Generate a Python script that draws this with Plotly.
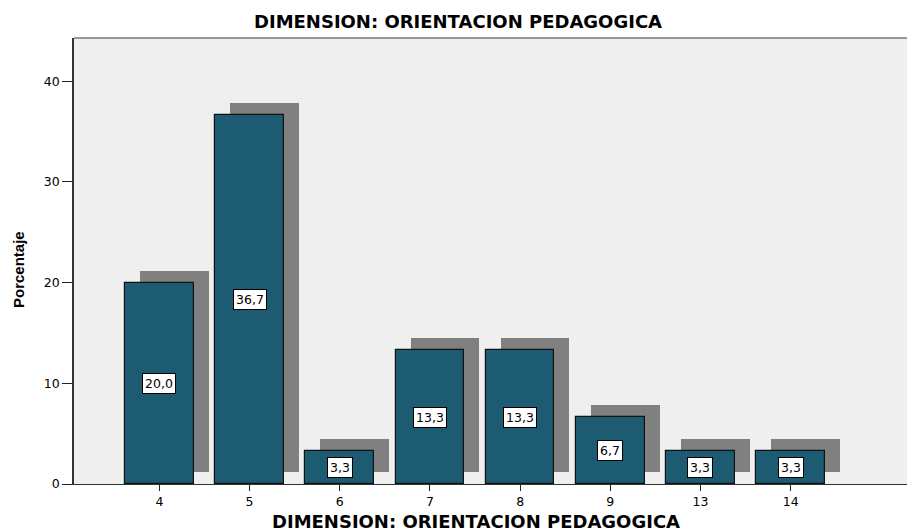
import plotly.graph_objects as go

categories = ["4", "5", "6", "7", "8", "9", "13", "14"]
percentages = [20.0, 36.7, 3.3, 13.3, 13.3, 6.7, 3.3, 3.3]
labels = ["20,0", "36,7", "3,3", "13,3", "13,3", "6,7", "3,3", "3,3"]
y_ticks = [0, 10, 20, 30, 40]
title_text = "DIMENSION: ORIENTACION PEDAGOGICA"

pos = list(range(len(categories)))
dx = 0.166   # shadow offset (category units)
dy = 1.19    # shadow offset (percent units)
bar_w = 0.76

W, H = 907, 532
L, R, T, B = 74, 0, 38, 48

fig = go.Figure()
fig.add_trace(go.Bar(
    x=[p + dx for p in pos], y=percentages, base=dy, width=bar_w,
    marker=dict(color="#808080", line=dict(width=0)),
    hoverinfo="skip", showlegend=False))
fig.add_trace(go.Bar(
    x=pos, y=percentages, width=bar_w,
    marker=dict(color="#1c5b71", line=dict(color="#111111", width=1.2)),
    showlegend=False))

for p, v, t in zip(pos, percentages, labels):
    fig.add_annotation(x=p, y=v / 2, text=t, showarrow=False,
                       font=dict(family="DejaVu Sans", size=12.5, color="black"),
                       bgcolor="white", bordercolor="black", borderwidth=1, borderpad=2)

def px_x(px):
    return (px - L) / (W - L - R)

def px_y(py):
    return (H - B - py) / (H - T - B)

# chart title
fig.add_annotation(xref="paper", yref="paper", x=px_x(458), y=px_y(22),
                   text="<b>" + title_text + "</b>", showarrow=False,
                   xanchor="center", yanchor="middle",
                   font=dict(family="DejaVu Sans", size=18, color="black"))
# x axis title
fig.add_annotation(xref="paper", yref="paper", x=px_x(476), y=px_y(521),
                   text="<b>" + title_text + "</b>", showarrow=False,
                   xanchor="center", yanchor="middle",
                   font=dict(family="DejaVu Sans", size=18, color="black"))
# y axis title
fig.add_annotation(xref="paper", yref="paper", x=px_x(18), y=px_y(270),
                   text="<b>Porcentaje</b>", showarrow=False, textangle=-90,
                   xanchor="center", yanchor="middle",
                   font=dict(family="Liberation Sans, Arial", size=15, color="black"))

fig.update_layout(
    width=W, height=H,
    margin=dict(l=L, r=R, t=T, b=B),
    paper_bgcolor="white", plot_bgcolor="#efefef",
    barmode="overlay", bargap=0,
    font=dict(family="DejaVu Sans", size=12, color="black"),
)
fig.update_xaxes(
    range=[-0.947, 8.29], tickmode="array", tickvals=pos, ticktext=categories,
    ticks="outside", ticklen=6, tickcolor="#222", showgrid=False, zeroline=False,
    showline=True, linecolor="#333", linewidth=1, mirror=False,
    tickfont=dict(family="DejaVu Sans", size=12.5))
fig.update_yaxes(
    range=[0, 44.3], tickvals=y_ticks,
    ticks="outside", ticklen=10, tickcolor="#222", showgrid=False, zeroline=False,
    showline=True, linecolor="#333", linewidth=1.5,
    tickfont=dict(family="DejaVu Sans", size=12.5))
fig.add_shape(type="line", xref="paper", yref="paper", x0=0, x1=1, y0=1, y1=1,
              line=dict(color="#777", width=1.5))

fig.write_html("out.html", config={"displayModeBar": False})
with open("out.html", "r", encoding="utf-8") as f:
    html = f.read()
html = html.replace("<body>", '<body style="margin:0;padding:0">', 1)
with open("out.html", "w", encoding="utf-8") as f:
    f.write(html)
